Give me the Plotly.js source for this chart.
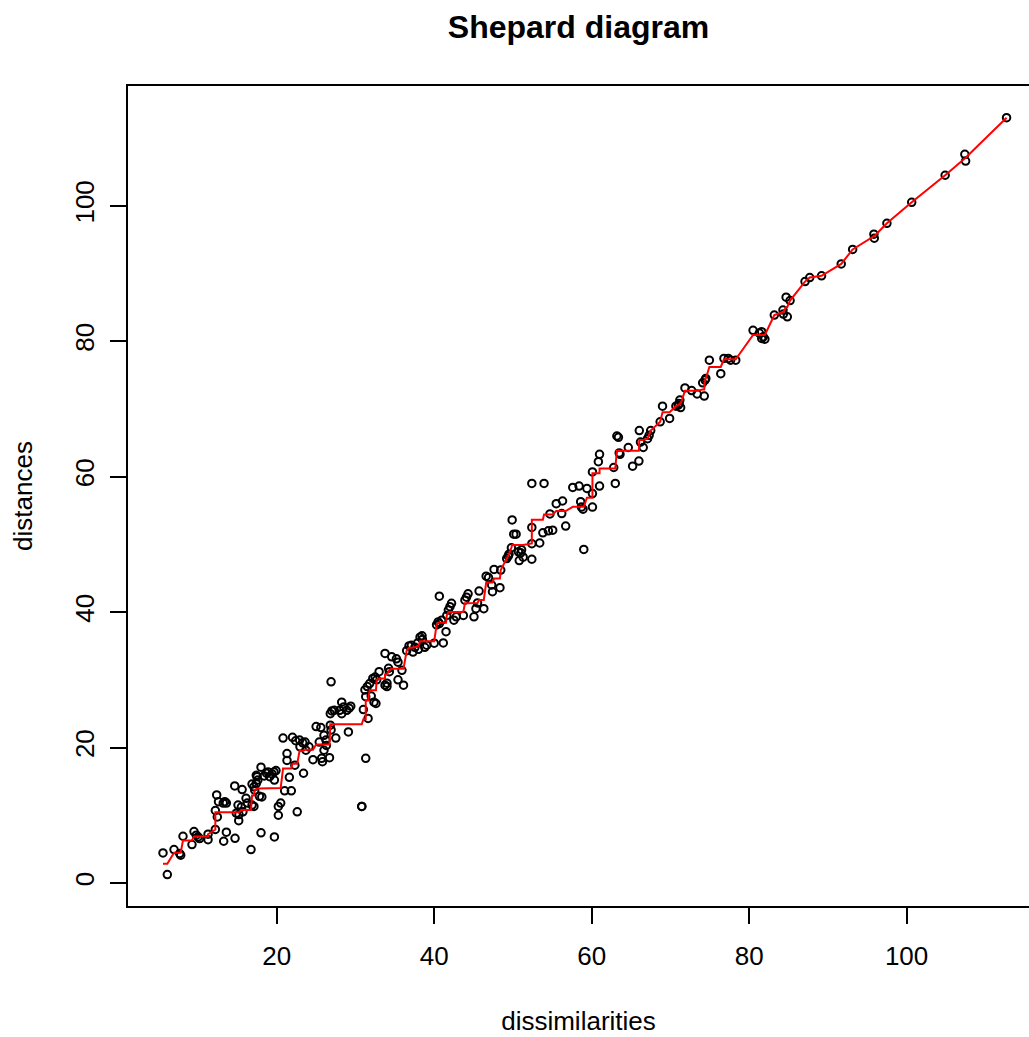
<!DOCTYPE html>
<html>
<head>
<meta charset="utf-8">
<script src="https://cdn.plot.ly/plotly-3.0.1.min.js"></script>
<style>
html,body{margin:0;padding:0;background:#fff;overflow:hidden;}
#chart{width:1029px;height:1037px;}
</style>
</head>
<body>
<div id="chart"></div>
<script>
// Dissimilarities (x) and configuration distances (y)
const dissimilarities = [
  5.55, 6.1, 6.95, 7.67, 7.8, 8.09, 9.23, 9.49, 9.78, 10.0,
  10.2, 11.27, 11.27, 12.2, 12.2, 12.45, 12.37, 12.6, 13.2, 13.4,
  13.6, 13.6, 13.26, 14.7, 14.66, 15.6, 15.08, 15.5, 15.2, 15.17,
  14.86, 15.7, 16.1, 16.26, 16.73, 16.86, 17.1, 17.2, 17.4, 17.6,
  17.4, 17.5, 16.86, 17.1, 17.8, 18.1, 18.0, 18.0, 18.4, 18.7,
  18.9, 19.1, 19.4, 19.65, 19.7, 19.7, 20.2, 20.5, 20.2, 21.0,
  21.85, 21.6, 22.6, 22.3, 23.4, 19.9, 21.3, 21.3, 20.8, 22.0,
  22.4, 22.9, 22.95, 23.3, 23.6, 24.1, 23.7, 24.6, 25.0, 25.6,
  25.4, 26.0, 26.25, 26.3, 25.7, 25.8, 26.7, 26.8, 27.0, 27.3,
  26.8, 26.9, 27.5, 26.0, 26.9, 28.25, 28.5, 28.9, 29.2, 29.4,
  28.0, 28.25, 29.1, 31.0, 31.3, 30.8, 31.2, 31.5, 31.8, 32.2,
  32.5, 32.7, 31.3, 32.0, 32.35, 32.6, 31.6, 33.0, 33.75, 34.0,
  34.0, 34.3, 34.2, 35.4, 36.1, 33.75, 34.6, 35.2, 35.4, 35.9,
  36.5, 36.8, 37.1, 37.55, 37.9, 38.2, 38.45, 38.5, 37.3, 38.0,
  38.8, 39.05, 40.0, 41.15, 40.65, 40.3, 40.5, 40.65, 40.95, 41.5,
  41.8, 42.0, 42.2, 42.5, 42.8, 41.6, 43.7, 43.9, 44.1, 44.3,
  45.05, 45.3, 45.5, 45.7, 46.3, 46.6, 46.9, 47.3, 47.4, 47.6,
  48.35, 48.45, 49.2, 49.4, 49.5, 49.8, 49.9, 50.1, 50.4, 50.7,
  51.0, 51.3, 50.8, 51.1, 52.4, 52.4, 52.4, 52.4, 53.95, 53.4,
  53.8, 54.5, 55.05, 55.5, 56.3, 54.7, 56.2, 56.7, 57.6, 58.4,
  58.7, 58.9, 58.6, 59.4, 60.1, 60.1, 60.1, 61.0, 60.85, 61.0,
  62.8, 63.0, 63.2, 63.4, 63.5, 63.6, 64.65, 65.2, 66.0, 66.05,
  66.2, 66.55, 67.1, 67.3, 67.5, 68.7, 69.0, 69.9, 70.7, 71.0,
  71.2, 71.3, 71.1, 71.85, 72.7, 73.4, 74.3, 74.1, 74.4, 74.5,
  74.95, 76.4, 76.8, 77.35, 77.65, 78.3, 80.5, 81.3, 81.6, 81.8,
  82.0, 81.6, 83.2, 84.3, 84.85, 84.35, 84.7, 85.2, 87.1, 87.7,
  89.2, 91.7, 93.15, 95.85, 95.9, 97.5, 100.65, 104.9, 107.4, 107.5,
  112.7, 59.0, 30.8
];
const distances = [
  4.43, 1.24, 4.93, 4.34, 4.1, 6.9, 5.67, 7.59, 7.05, 6.8,
  6.56, 6.4, 7.2, 7.9, 10.7, 9.75, 13.0, 12.0, 11.8, 12.0,
  11.8, 7.5, 6.16, 6.6, 14.33, 13.8, 11.5, 11.2, 10.1, 9.2,
  10.3, 10.5, 12.5, 11.8, 4.93, 14.6, 14.2, 13.7, 14.7, 15.2,
  15.9, 15.7, 11.5, 11.3, 12.8, 12.7, 17.1, 7.4, 15.8, 16.2,
  16.4, 15.7, 16.1, 16.4, 15.2, 6.8, 11.3, 11.8, 10.0, 13.6,
  13.6, 15.6, 10.5, 17.4, 16.2, 16.6, 19.1, 18.1, 21.4, 21.5,
  21.0, 21.1, 20.1, 20.7, 20.8, 20.1, 19.6, 18.2, 23.1, 22.95,
  20.8, 21.8, 21.1, 20.3, 18.4, 17.9, 18.5, 25.0, 25.4, 25.5,
  23.3, 22.6, 21.4, 19.6, 29.7, 26.7, 26.0, 25.5, 25.8, 26.1,
  25.5, 25.0, 22.3, 25.6, 18.4, 11.3, 28.5, 29.0, 29.45, 30.2,
  30.4, 30.0, 27.5, 27.6, 26.7, 26.5, 24.3, 31.2, 29.2, 29.5,
  29.0, 31.2, 31.7, 30.0, 29.2, 33.9, 33.4, 33.1, 32.6, 31.4,
  34.3, 35.0, 35.1, 34.8, 35.45, 36.3, 36.5, 35.95, 34.1, 34.5,
  34.8, 35.1, 35.4, 35.45, 42.35, 38.1, 38.55, 38.3, 38.8, 37.1,
  40.3, 40.8, 41.3, 38.8, 39.3, 39.5, 39.5, 41.75, 42.2, 42.7,
  39.3, 40.5, 41.35, 43.1, 40.5, 45.3, 45.1, 44.0, 43.0, 46.3,
  43.6, 46.2, 47.9, 48.25, 48.55, 49.5, 53.6, 51.5, 51.5, 48.9,
  48.75, 48.1, 47.6, 49.2, 52.5, 50.1, 47.8, 59.0, 59.0, 50.2,
  51.7, 52.0, 52.1, 56.0, 56.4, 54.5, 54.55, 52.7, 58.4, 58.6,
  55.5, 55.2, 56.3, 58.25, 55.5, 57.5, 60.7, 58.6, 62.2, 63.3,
  61.35, 59.0, 66.0, 65.8, 63.5, 63.3, 64.3, 61.55, 62.3, 66.8,
  65.1, 64.3, 65.6, 66.1, 66.8, 68.1, 70.4, 68.6, 70.4, 70.55,
  71.3, 70.2, 70.8, 73.1, 72.7, 72.2, 71.9, 73.85, 74.25, 74.5,
  77.2, 75.2, 77.45, 77.45, 77.2, 77.2, 81.6, 81.2, 81.4, 80.65,
  80.3, 80.4, 83.85, 84.6, 83.6, 84.0, 86.5, 86.0, 88.8, 89.4,
  89.65, 91.4, 93.55, 95.8, 95.2, 97.4, 100.5, 104.5, 107.6, 106.6,
  113.0, 49.25, 11.3
];
const xTicks = [20, 40, 60, 80, 100];
const yTicks = [0, 20, 40, 60, 80, 100];

// Monotone (isotonic) regression of distances on dissimilarities, as in a Shepard plot
function isotonicFit(xs, ys) {
  const idx = xs.map((v, i) => i).sort((a, b) => xs[a] - xs[b] || a - b);
  const blocks = [];
  idx.forEach(i => {
    blocks.push({ sum: ys[i], n: 1 });
    while (blocks.length > 1 &&
      blocks[blocks.length - 2].sum / blocks[blocks.length - 2].n >
      blocks[blocks.length - 1].sum / blocks[blocks.length - 1].n) {
      const b = blocks.pop();
      blocks[blocks.length - 1].sum += b.sum;
      blocks[blocks.length - 1].n += b.n;
    }
  });
  const fitted = [];
  blocks.forEach(b => { for (let k = 0; k < b.n; k++) fitted.push(b.sum / b.n); });
  return { x: idx.map(i => xs[i]), y: fitted };
}
const fit = isotonicFit(dissimilarities, distances);

const FONT = 'Liberation Sans, Arial, Helvetica, sans-serif';

const traces = [
  {
    type: 'scatter', mode: 'markers',
    x: dissimilarities, y: distances,
    marker: { symbol: 'circle-open', size: 7.5, color: '#000', line: { width: 2, color: '#000' } },
    hoverinfo: 'x+y', showlegend: false
  },
  {
    type: 'scatter', mode: 'lines',
    x: fit.x, y: fit.y,
    line: { color: '#ff0000', width: 2 },
    hoverinfo: 'skip', showlegend: false
  }
];

const layout = {
  width: 1029, height: 1037,
  margin: { l: 128, r: 0, t: 86, b: 131, pad: 0 },
  paper_bgcolor: '#fff', plot_bgcolor: '#fff',
  font: { family: FONT, color: '#000', size: 26 },
  showlegend: false,
  title: {
    text: '<b>Shepard diagram</b>',
    font: { family: FONT, size: 32, color: '#000' },
    x: 0.5, xref: 'paper', xanchor: 'center',
    y: 1 - 27 / 1037, yref: 'container', yanchor: 'middle'
  },
  xaxis: {
    range: [1.105, 115.55], autorange: false,
    tickvals: xTicks, ticktext: xTicks.map(String),
    ticks: 'outside', ticklen: 16, tickwidth: 2, tickcolor: '#000',
    showline: true, linewidth: 2, linecolor: '#000', mirror: true,
    showgrid: false, zeroline: false,
    tickfont: { family: FONT, size: 26, color: '#000' },
    ticklabelstandoff: 10,
    title: { text: 'dissimilarities', font: { family: FONT, size: 26, color: '#000' }, standoff: 42 }
  },
  yaxis: {
    range: [-3.40, 117.68], autorange: false,
    tickvals: yTicks, ticktext: yTicks.map(String),
    tickangle: -90,
    ticks: 'outside', ticklen: 16, tickwidth: 2, tickcolor: '#000',
    showline: true, linewidth: 2, linecolor: '#000', mirror: false,
    showgrid: false, zeroline: false,
    tickfont: { family: FONT, size: 26, color: '#000' },
    ticklabelstandoff: 6,
    title: { text: 'distances', font: { family: FONT, size: 26, color: '#000' }, standoff: 29 }
  }
};

Plotly.newPlot('chart', traces, layout, { displayModeBar: false, staticPlot: false, responsive: false });
</script>
</body>
</html>
